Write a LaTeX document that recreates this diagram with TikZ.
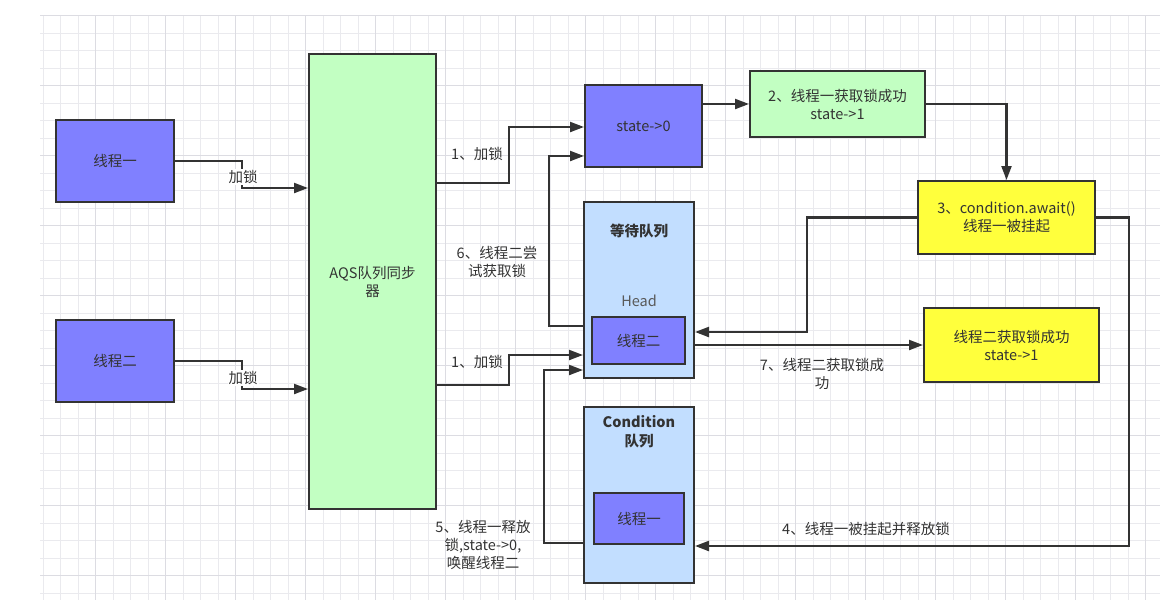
\documentclass[tikz,border=0pt]{standalone}
\usepackage{fontspec}
\setmainfont{Noto Sans CJK SC}
\usetikzlibrary{arrows.meta}
\definecolor{linec}{HTML}{333333}
\definecolor{txt}{HTML}{333333}
\definecolor{thr}{RGB}{128,128,255}
\definecolor{grn}{RGB}{194,255,194}
\definecolor{lblue}{RGB}{194,222,255}
\definecolor{yel}{RGB}{255,255,60}
\definecolor{gridc}{RGB}{234,234,238}
\definecolor{gridd}{RGB}{220,220,226}
\tikzset{
  box/.style={draw=linec, line width=2pt, inner sep=0pt, text=txt, align=center},
  conn/.style={draw=linec, line width=2.2pt, -{Triangle[length=14pt,width=10pt]}},
  lbl/.style={text=txt, align=center, inner sep=1pt},
}
\begin{document}
\begin{tikzpicture}[x=1pt,y=-1pt,font=\fontsize{14.5}{18}\selectfont]
\useasboundingbox (0,0) rectangle (1176,608);
% grid
\foreach \i in {0,...,63} {\draw[gridc,line width=0.9pt] ({43+17.5*\i},15) -- ({43+17.5*\i},600);}
\foreach \j in {0,...,33} {\draw[gridc,line width=0.9pt] (40,{15.5+17.5*\j}) -- (1160,{15.5+17.5*\j});}
\foreach \i in {0,...,15} {\draw[gridd,line width=1pt] ({95.5+70*\i},15) -- ({95.5+70*\i},600);}
\foreach \j in {0,...,8} {\draw[gridd,line width=1pt] (40,{15.5+70*\j}) -- (1160,{15.5+70*\j});}

% boxes
\node[box, fill=thr, minimum width=118pt, minimum height=82pt] (t1) at (115,161) {线程一};
\node[box, fill=thr, minimum width=118pt, minimum height=82pt] (t2) at (115,361) {线程二};
\node[box, fill=grn, minimum width=127pt, minimum height=455pt] (aqs) at (372.5,281.5) {AQS队列同步\\器};
\node[box, fill=thr, minimum width=117pt, minimum height=82pt] (st) at (643.5,126) {state->0};
\node[box, fill=lblue, minimum width=110pt, minimum height=176pt] (wq) at (639,290) {};
\node[box, fill=thr, minimum width=93pt, minimum height=47pt] (wqt) at (638.5,340.5) {线程二};
\node[box, fill=lblue, minimum width=110pt, minimum height=176pt] (cq) at (639,495) {};
\node[box, fill=thr, minimum width=90pt, minimum height=51pt] (cqt) at (639,518.5) {线程一};
\node[box, fill=grn, minimum width=175pt, minimum height=66pt] (s2) at (837.5,104) {2、线程一获取锁成功\\state->1};
\node[box, fill=yel, minimum width=177pt, minimum height=73pt] (s3) at (1006.5,217.5) {3、condition.await()\\线程一被挂起};
\node[box, fill=yel, minimum width=175pt, minimum height=74pt] (s4) at (1011.5,345) {线程二获取锁成功\\state->1};

% titles inside queues
\node[lbl, font=\fontsize{14.5}{18}\selectfont\bfseries] (wqtitle) at (639,231) {等待队列};
\node[lbl, text=black!65] (head) at (639,301) {Head};
\node[lbl, font=\fontsize{14.5}{19}\selectfont\bfseries] (cqtitle) at (639,432) {Condition\\队列};

% connectors
\draw[conn] (t1.east) -- (242,161) -- (242,188) -- (aqs.west |- 0,188);
\node[lbl, fill=white] (l1) at (243,177) {加锁};
\draw[conn] (t2.east) -- (242,361) -- (242,389) -- (aqs.west |- 0,389);
\node[lbl, fill=white] (l2) at (243,378) {加锁};

\draw[conn] (aqs.east |- 0,183) -- (509,183) -- (509,127) -- (st.west |- 0,127);
\node[lbl] (l3) at (477,154) {1、加锁};
\draw[conn] (aqs.east |- 0,385) -- (509,385) -- (509,355) -- (wq.west |- 0,355);
\node[lbl] (l4) at (477,362) {1、加锁};

\draw[conn] (wq.west |- 0,326) -- (549,326) -- (549,156) -- (st.west |- 0,156);
\node[lbl] (l6) at (497,262) {6、线程二尝\\试获取锁};

\draw[conn] (cq.west |- 0,543) -- (544,543) -- (544,370) -- (wq.west |- 0,370);
\node[lbl] (l5) at (483,545) {5、线程一释放\\锁,state->0,\\唤醒线程二};

\draw[conn] (st.east |- s2.west) -- (s2.west);
\draw[conn] (s2.east) -| (s3.north);

\draw[conn] (s3.west) -- (807,217.5) -- (807,332) -- (wq.east |- 0,332);
\draw[conn] (wq.east |- s4.west) -- (s4.west);
\node[lbl] (l7) at (822,373.5) {7、线程二获取锁成\\功};

\draw[conn] (s3.east) -- (1129,217.5) -- (1129,546) -- (cq.east |- 0,546);
\node[lbl] (l8) at (866,529) {4、线程一被挂起并释放锁};
\end{tikzpicture}
\end{document}
